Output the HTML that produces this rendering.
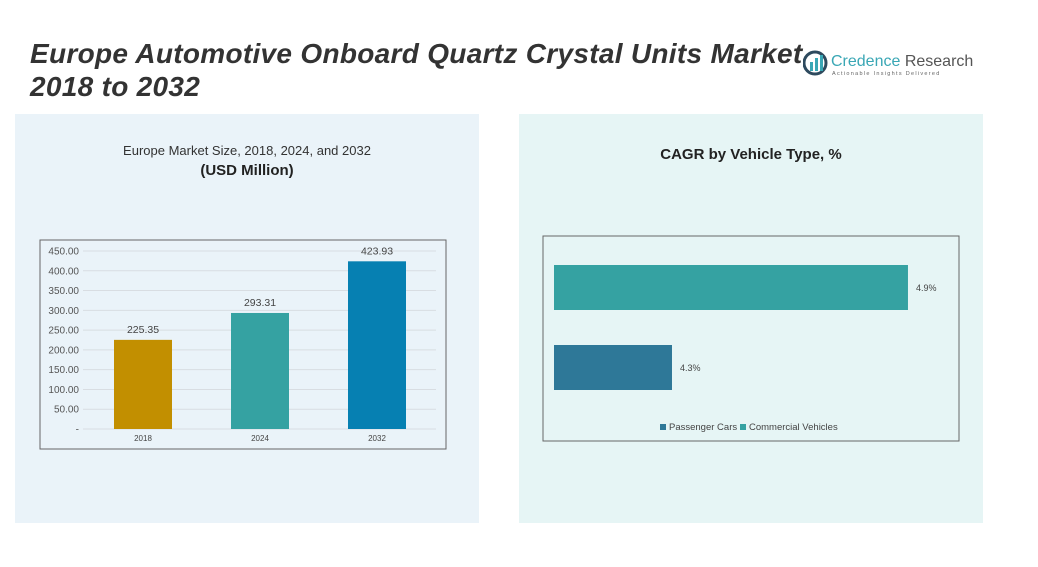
<!DOCTYPE html>
<html><head><meta charset="utf-8"><style>
body{margin:0;width:1038px;height:567px;background:#fff;font-family:"Liberation Sans",sans-serif;position:relative;overflow:hidden}
.title{position:absolute;left:30px;top:37px;font-size:28px;font-weight:bold;font-style:italic;color:#333;line-height:33px;letter-spacing:0.3px}
.panel{position:absolute;top:114px;height:409px}
</style></head><body>
<div class="title">Europe Automotive Onboard Quartz Crystal Units Market<br>2018 to 2032</div>
<div style="position:absolute;left:803px;top:50px;">
<svg width="175" height="30"><circle cx="12" cy="13" r="11" fill="none" stroke="#2e4a5e" stroke-width="3"/><rect x="7" y="12" width="3" height="9" fill="#3aa7b5"/><rect x="12" y="8" width="3" height="13" fill="#3aa7b5"/><rect x="17" y="5" width="3" height="16" fill="#3aa7b5"/>
<text x="28" y="16" font-size="16" fill="#3aa7b5" font-family="Liberation Sans">Credence <tspan fill="#555">Research</tspan></text>
<text x="29" y="25" font-size="5.5" fill="#666" letter-spacing="1.3">Actionable Insights Delivered</text></svg></div>
<div class="panel" style="left:15px;width:464px;background:#eaf3f9"></div>
<div class="panel" style="left:519px;width:464px;background:#e6f5f5"></div>
<svg width="1038" height="567" style="position:absolute;left:0;top:0" id="svg">
<text x="247" y="155" text-anchor="middle" font-size="13" fill="#333">Europe Market Size, 2018, 2024, and 2032</text>
<text x="247" y="175" text-anchor="middle" font-size="15" font-weight="bold" fill="#222">(USD Million)</text>
<text x="751" y="159" text-anchor="middle" font-size="15" font-weight="bold" fill="#222">CAGR by Vehicle Type, %</text>
<rect x="40" y="240" width="406" height="209" fill="none" stroke="#666" stroke-width="1"/>
<rect x="543" y="236" width="416" height="205" fill="none" stroke="#666" stroke-width="1"/>
<g id="left"></g><g id="right"></g>
<rect x="660" y="424" width="6" height="6" fill="#2e7898"/>
<text x="669" y="430" font-size="9.5" fill="#444">Passenger Cars</text>
<rect x="740" y="424" width="6" height="6" fill="#35a2a2"/>
<text x="749" y="430" font-size="9.5" fill="#444">Commercial Vehicles</text>
</svg>
<script>
const years=["2018","2024","2032"];
const sizes=[225.35,293.31,423.93];
const barColors=["#c28f00","#35a2a2","#0680b2"];
const yTicks=[0,50,100,150,200,250,300,350,400,450];
const cagrCats=["Commercial Vehicles","Passenger Cars"];
const cagrVals=[4.9,4.3];
const cagrColors=["#35a2a2","#2e7898"];
const NS="http://www.w3.org/2000/svg";
function mk(p,t,a,txt){const e=document.createElementNS(NS,t);for(const k in a)e.setAttribute(k,a[k]);if(txt!==undefined)e.textContent=txt;p.appendChild(e);return e;}
const L=document.getElementById('left');
const y=v=>429-v*(178/450);
const xc=i=>143+i*117;
yTicks.forEach(t=>{
 const g=mk(L,'line',{x1:83,x2:436,y1:y(t),y2:y(t),stroke:'#d8dde2','stroke-width':1});
 
 
 const tx=mk(L,'text',{x:79,y:y(t)+3.5,'text-anchor':'end','font-size':10,fill:'#555'},t===0?'-':t.toFixed(2));
 
 
});
years.forEach((yr,i)=>{
 const r=mk(L,'rect',{x:xc(i)-29,y:y(sizes[i]),width:58,height:y(0)-y(sizes[i]),fill:barColors[i]});
 
 
 const v=mk(L,'text',{x:xc(i),y:y(sizes[i])-7,'text-anchor':'middle','font-size':10.5,fill:'#444'},sizes[i].toFixed(2));
 
 
 const c=mk(L,'text',{x:xc(i),y:441,'text-anchor':'middle','font-size':8,fill:'#444'},yr);
 
 
});
const R=document.getElementById('right');
const xs=v=>554+(v-4.0)*393.3;
cagrCats.forEach((c,i)=>{
 const top=265+i*80;
 const r=mk(R,'rect',{x:554,y:top,width:xs(cagrVals[i])-554,height:45,fill:cagrColors[i]});
 
 
 const t=mk(R,'text',{x:xs(cagrVals[i])+8,y:top+26,'font-size':9,fill:'#444'},cagrVals[i]+'%');
 
 
});
</script>
</body></html>
